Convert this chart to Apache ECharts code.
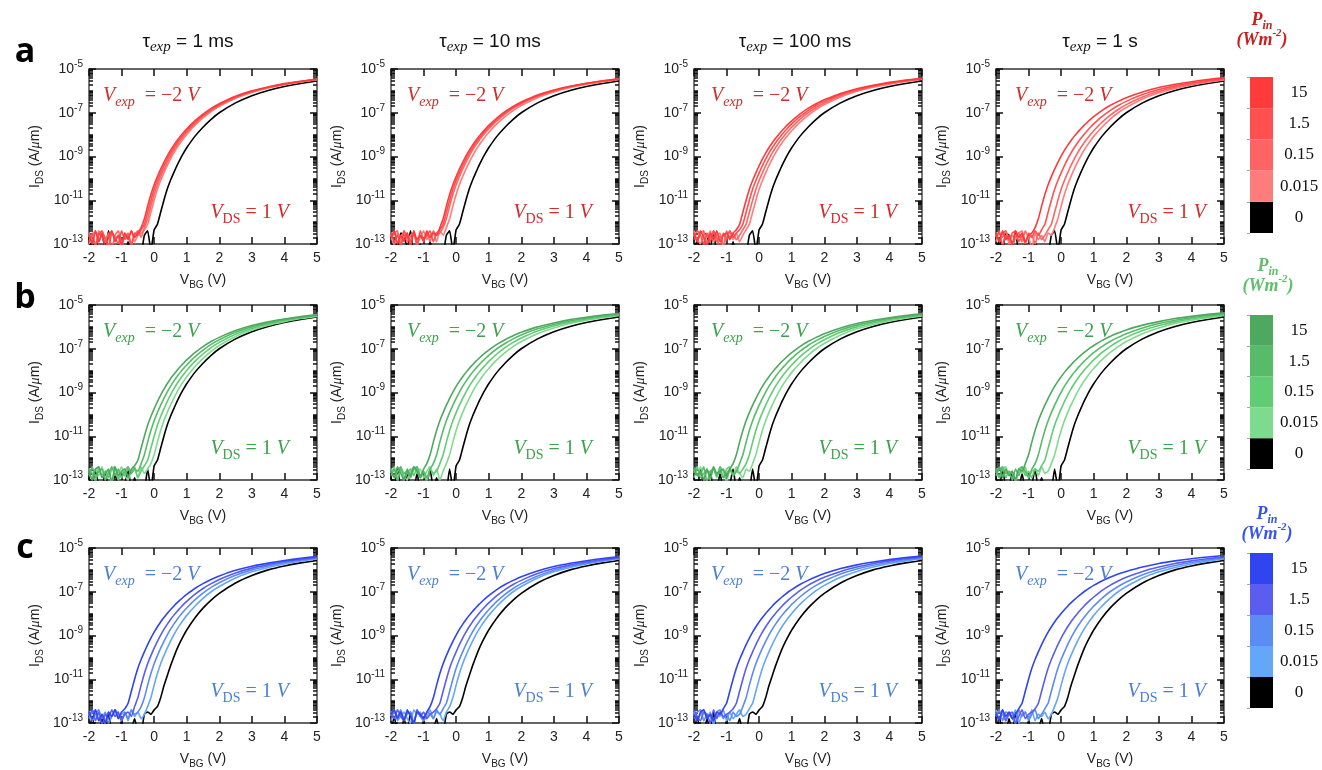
<!DOCTYPE html>
<html>
<head>
<meta charset="utf-8">
<script src="https://cdn.jsdelivr.net/npm/echarts@6/dist/echarts.min.js"></script>
<style>
html,body{margin:0;padding:0;background:#fff;}
#chart{width:1322px;height:770px;}
</style>
</head>
<body>
<div id="chart"></div>
<script>
// Back-gate voltage grid (V), shared by every transfer curve
const VBG = [-2.0,-1.9,-1.8,-1.7,-1.6,-1.5,-1.4,-1.3,-1.2,-1.1,-1.0,-0.9,-0.8,-0.7,-0.6,-0.5,-0.4,-0.3,-0.2,-0.1,0.0,0.1,0.2,0.3,0.4,0.5,0.6,0.7,0.8,0.9,1.0,1.25,1.5,1.75,2.0,2.5,3.0,3.5,4.0,4.5,5.0];

// Column headings (exposure time) and colour-bar levels (P_in, W m^-2)
const TAU_LABELS = ['1 ms', '10 ms', '100 ms', '1 s'];
const PIN_LEVELS = ['0', '0.015', '0.15', '1.5', '15'];
const ROW_LETTERS = ['a', 'b', 'c'];
const X_TICKS = [-2, -1, 0, 1, 2, 3, 4, 5];
const Y_TICKS = [-13, -11, -9, -7, -5];   // log10(I_DS) of labelled ticks

// Dark (P_in = 0) reference curves, log10(I_DS / A um^-1), one per row
const DARK_A = [-13.4,-12.8,-13.3,-12.5,-12.6,-13.2,-12.4,-13.4,-13.4,-13.0,-13.4,-13.4,-12.9,-13.4,-13.4,-13.3,-13.4,-12.6,-12.4,-13.3,-12.35,-12.1,-11.55,-11.0,-10.5,-10.1,-9.75,-9.42,-9.12,-8.85,-8.6,-8.08,-7.66,-7.3,-7.0,-6.55,-6.22,-5.98,-5.8,-5.66,-5.55];
const DARK_B = [-12.9,-13.4,-12.5,-13.3,-13.4,-12.6,-13.4,-13.4,-12.7,-13.4,-13.4,-13.2,-12.5,-13.4,-12.9,-13.4,-13.4,-13.4,-12.5,-13.4,-12.35,-12.1,-11.55,-11.0,-10.5,-10.1,-9.75,-9.42,-9.12,-8.85,-8.6,-8.08,-7.66,-7.3,-7.0,-6.55,-6.22,-5.98,-5.8,-5.66,-5.55];
const DARK_C = [-13.4,-12.7,-13.4,-13.4,-12.8,-13.4,-12.5,-13.4,-13.4,-13.4,-12.9,-13.4,-13.4,-13.3,-12.8,-13.4,-13.4,-12.6,-12.5,-12.6,-12.4,-12.25,-11.85,-11.3,-10.85,-10.4,-10.0,-9.62,-9.3,-9.02,-8.75,-8.2,-7.75,-7.38,-7.07,-6.6,-6.26,-6.0,-5.82,-5.68,-5.57];

// Illuminated curves per panel, order: P_in = 15, 1.5, 0.15, 0.015 W m^-2
// Row a (red)
const A_1MS = [
  [-12.6,-13.0,-12.4,-12.9,-12.5,-13.2,-12.7,-12.4,-12.9,-12.6,-13.1,-12.5,-12.8,-12.4,-12.7,-12.5,-12.25,-11.85,-11.27,-10.74,-10.29,-9.92,-9.58,-9.27,-8.98,-8.72,-8.49,-8.28,-8.08,-7.9,-7.74,-7.37,-7.06,-6.8,-6.59,-6.25,-6.0,-5.82,-5.67,-5.56,-5.46],
  [-12.9,-12.5,-13.1,-12.6,-12.4,-12.8,-13.2,-12.5,-12.7,-13.0,-12.4,-12.8,-12.6,-13.1,-12.5,-12.6,-12.35,-12.1,-11.55,-11.0,-10.5,-10.1,-9.75,-9.42,-9.12,-8.85,-8.6,-8.38,-8.18,-7.99,-7.82,-7.44,-7.12,-6.85,-6.63,-6.28,-6.02,-5.83,-5.69,-5.57,-5.47],
  [-12.5,-12.8,-13.1,-12.4,-12.7,-12.9,-12.5,-13.2,-12.6,-12.4,-12.9,-12.7,-12.5,-13.0,-12.6,-12.4,-12.7,-12.25,-11.85,-11.27,-10.74,-10.29,-9.92,-9.58,-9.27,-8.98,-8.72,-8.49,-8.28,-8.08,-7.9,-7.51,-7.18,-6.9,-6.67,-6.31,-6.05,-5.85,-5.7,-5.58,-5.48],
  [-13.0,-12.6,-12.4,-12.9,-12.5,-12.7,-13.1,-12.4,-12.8,-12.6,-13.2,-12.5,-12.7,-12.4,-12.9,-12.6,-12.5,-12.35,-12.1,-11.55,-11.0,-10.5,-10.1,-9.75,-9.42,-9.12,-8.85,-8.6,-8.38,-8.18,-7.99,-7.58,-7.24,-6.95,-6.71,-6.34,-6.07,-5.87,-5.71,-5.59,-5.49]
];
const A_10MS = [
  [-12.7,-12.4,-13.0,-12.6,-12.9,-12.5,-13.2,-12.4,-12.8,-12.6,-12.9,-12.4,-12.7,-12.5,-12.6,-12.25,-11.85,-11.27,-10.74,-10.29,-9.92,-9.58,-9.27,-8.98,-8.72,-8.49,-8.28,-8.08,-7.9,-7.74,-7.58,-7.24,-6.95,-6.71,-6.51,-6.19,-5.96,-5.79,-5.65,-5.54,-5.45],
  [-12.5,-12.9,-12.6,-13.1,-12.4,-12.7,-12.9,-12.5,-13.0,-12.4,-12.8,-12.6,-12.4,-12.9,-12.5,-12.35,-12.1,-11.55,-11.0,-10.5,-10.1,-9.75,-9.42,-9.12,-8.85,-8.6,-8.38,-8.18,-7.99,-7.82,-7.66,-7.3,-7.0,-6.76,-6.55,-6.22,-5.98,-5.8,-5.66,-5.55,-5.46],
  [-12.8,-12.5,-12.4,-13.0,-12.7,-12.5,-12.9,-12.4,-13.1,-12.6,-12.8,-12.5,-12.9,-12.4,-12.6,-12.5,-12.25,-11.85,-11.27,-10.74,-10.29,-9.92,-9.58,-9.27,-8.98,-8.72,-8.49,-8.28,-8.08,-7.9,-7.74,-7.37,-7.06,-6.8,-6.59,-6.25,-6.0,-5.82,-5.67,-5.56,-5.46],
  [-12.6,-13.1,-12.5,-12.8,-12.4,-12.9,-12.6,-12.5,-13.0,-12.7,-12.4,-12.8,-12.6,-12.5,-12.9,-12.4,-12.6,-12.25,-11.85,-11.27,-10.74,-10.29,-9.92,-9.58,-9.27,-8.98,-8.72,-8.49,-8.28,-8.08,-7.9,-7.51,-7.18,-6.9,-6.67,-6.31,-6.05,-5.85,-5.7,-5.58,-5.48]
];
const A_100MS = [
  [-12.5,-12.9,-12.4,-12.7,-13.1,-12.5,-12.8,-12.4,-12.9,-12.6,-12.5,-12.8,-12.5,-12.35,-12.1,-11.55,-11.0,-10.5,-10.1,-9.75,-9.42,-9.12,-8.85,-8.6,-8.38,-8.18,-7.99,-7.82,-7.66,-7.51,-7.37,-7.06,-6.8,-6.59,-6.41,-6.12,-5.9,-5.74,-5.61,-5.51,-5.43],
  [-12.8,-12.4,-12.6,-13.0,-12.5,-12.9,-12.4,-12.7,-13.2,-12.5,-12.8,-12.4,-12.7,-12.5,-12.35,-12.1,-11.55,-11.0,-10.5,-10.1,-9.75,-9.42,-9.12,-8.85,-8.6,-8.38,-8.18,-7.99,-7.82,-7.66,-7.51,-7.18,-6.9,-6.67,-6.48,-6.17,-5.94,-5.77,-5.64,-5.53,-5.44],
  [-12.6,-12.9,-12.5,-12.4,-13.0,-12.7,-12.5,-12.9,-12.6,-13.1,-12.4,-12.7,-12.5,-12.8,-12.6,-12.35,-12.1,-11.55,-11.0,-10.5,-10.1,-9.75,-9.42,-9.12,-8.85,-8.6,-8.38,-8.18,-7.99,-7.82,-7.66,-7.3,-7.0,-6.76,-6.55,-6.22,-5.98,-5.8,-5.66,-5.55,-5.46],
  [-12.4,-12.8,-13.0,-12.5,-12.7,-12.4,-12.9,-12.6,-12.5,-13.1,-12.7,-12.4,-12.8,-12.5,-12.9,-12.6,-12.35,-12.1,-11.55,-11.0,-10.5,-10.1,-9.75,-9.42,-9.12,-8.85,-8.6,-8.38,-8.18,-7.99,-7.82,-7.44,-7.12,-6.85,-6.63,-6.28,-6.02,-5.83,-5.69,-5.57,-5.47]
];
const A_1S = [
  [-12.5,-12.9,-12.4,-12.8,-12.6,-13.0,-12.4,-12.7,-12.5,-12.9,-12.6,-12.5,-12.25,-11.85,-11.27,-10.74,-10.29,-9.92,-9.58,-9.27,-8.98,-8.72,-8.49,-8.28,-8.08,-7.9,-7.74,-7.58,-7.44,-7.3,-7.18,-6.9,-6.67,-6.48,-6.31,-6.05,-5.85,-5.7,-5.58,-5.48,-5.4],
  [-12.7,-12.4,-13.1,-12.6,-12.8,-12.5,-12.4,-12.9,-12.6,-13.0,-12.5,-12.7,-12.4,-12.6,-12.35,-12.1,-11.55,-11.0,-10.5,-10.1,-9.75,-9.42,-9.12,-8.85,-8.6,-8.38,-8.18,-7.99,-7.82,-7.66,-7.51,-7.18,-6.9,-6.67,-6.48,-6.17,-5.94,-5.77,-5.64,-5.53,-5.44],
  [-12.6,-12.9,-12.5,-12.4,-12.8,-13.1,-12.6,-12.5,-12.9,-12.4,-12.7,-12.6,-13.0,-12.5,-12.8,-12.6,-12.35,-12.1,-11.55,-11.0,-10.5,-10.1,-9.75,-9.42,-9.12,-8.85,-8.6,-8.38,-8.18,-7.99,-7.82,-7.44,-7.12,-6.85,-6.63,-6.28,-6.02,-5.83,-5.69,-5.57,-5.47],
  [-12.9,-12.5,-12.7,-12.4,-13.0,-12.6,-12.8,-12.5,-12.4,-12.9,-12.7,-13.2,-12.5,-12.8,-12.6,-12.9,-12.5,-12.6,-12.25,-11.85,-11.27,-10.74,-10.29,-9.92,-9.58,-9.27,-8.98,-8.72,-8.49,-8.28,-8.08,-7.66,-7.3,-7.0,-6.76,-6.37,-6.09,-5.89,-5.73,-5.6,-5.5]
];
// Row b (green)
const B_1MS = [
  [-12.6,-13.0,-12.5,-12.4,-12.9,-12.7,-12.5,-13.1,-12.4,-12.8,-12.6,-12.5,-12.9,-12.5,-12.35,-12.1,-11.55,-11.0,-10.5,-10.1,-9.75,-9.42,-9.12,-8.85,-8.6,-8.38,-8.18,-7.99,-7.82,-7.66,-7.51,-7.18,-6.9,-6.67,-6.48,-6.17,-5.94,-5.77,-5.64,-5.53,-5.44],
  [-12.8,-12.4,-12.9,-12.6,-12.5,-13.0,-12.7,-12.4,-12.8,-12.5,-12.9,-12.6,-12.4,-12.7,-12.5,-12.6,-12.25,-11.85,-11.27,-10.74,-10.29,-9.92,-9.58,-9.27,-8.98,-8.72,-8.49,-8.28,-8.08,-7.9,-7.74,-7.37,-7.06,-6.8,-6.59,-6.25,-6.0,-5.82,-5.67,-5.56,-5.46],
  [-12.5,-12.7,-13.1,-12.4,-12.8,-12.6,-12.9,-12.5,-12.4,-13.0,-12.6,-12.8,-12.5,-12.7,-12.4,-12.9,-12.6,-12.35,-12.1,-11.55,-11.0,-10.5,-10.1,-9.75,-9.42,-9.12,-8.85,-8.6,-8.38,-8.18,-7.99,-7.58,-7.24,-6.95,-6.71,-6.34,-6.07,-5.87,-5.71,-5.59,-5.49],
  [-12.7,-13.0,-12.5,-12.8,-12.4,-12.9,-12.6,-13.2,-12.5,-12.7,-12.4,-12.8,-13.0,-12.6,-12.5,-12.9,-12.4,-12.7,-12.5,-12.25,-11.85,-11.27,-10.74,-10.29,-9.92,-9.58,-9.27,-8.98,-8.72,-8.49,-8.28,-7.82,-7.44,-7.12,-6.85,-6.44,-6.14,-5.92,-5.76,-5.62,-5.52]
];
const B_10MS = [
  [-12.6,-12.9,-12.4,-12.7,-13.0,-12.5,-12.8,-12.4,-12.6,-12.9,-12.5,-12.25,-11.85,-11.27,-10.74,-10.29,-9.92,-9.58,-9.27,-8.98,-8.72,-8.49,-8.28,-8.08,-7.9,-7.74,-7.58,-7.44,-7.3,-7.18,-7.06,-6.8,-6.59,-6.41,-6.25,-6.0,-5.82,-5.67,-5.56,-5.46,-5.39],
  [-12.8,-12.5,-13.1,-12.4,-12.7,-12.6,-12.9,-12.5,-12.4,-12.8,-12.6,-12.9,-12.5,-12.25,-11.85,-11.27,-10.74,-10.29,-9.92,-9.58,-9.27,-8.98,-8.72,-8.49,-8.28,-8.08,-7.9,-7.74,-7.58,-7.44,-7.3,-7.0,-6.76,-6.55,-6.37,-6.09,-5.89,-5.73,-5.6,-5.5,-5.42],
  [-12.5,-12.9,-12.6,-12.4,-13.0,-12.7,-12.5,-12.8,-12.4,-12.9,-12.6,-13.1,-12.5,-12.7,-12.6,-12.25,-11.85,-11.27,-10.74,-10.29,-9.92,-9.58,-9.27,-8.98,-8.72,-8.49,-8.28,-8.08,-7.9,-7.74,-7.58,-7.24,-6.95,-6.71,-6.51,-6.19,-5.96,-5.79,-5.65,-5.54,-5.45],
  [-12.7,-12.4,-12.9,-12.5,-12.8,-13.0,-12.6,-12.4,-12.7,-12.5,-12.9,-12.6,-12.4,-12.8,-12.5,-13.0,-12.6,-12.25,-11.85,-11.27,-10.74,-10.29,-9.92,-9.58,-9.27,-8.98,-8.72,-8.49,-8.28,-8.08,-7.9,-7.51,-7.18,-6.9,-6.67,-6.31,-6.05,-5.85,-5.7,-5.58,-5.48]
];
const B_100MS = [
  [-12.4,-12.8,-12.6,-13.0,-12.5,-12.9,-12.4,-12.7,-12.6,-12.5,-12.9,-12.5,-12.25,-11.85,-11.27,-10.74,-10.29,-9.92,-9.58,-9.27,-8.98,-8.72,-8.49,-8.28,-8.08,-7.9,-7.74,-7.58,-7.44,-7.3,-7.18,-6.9,-6.67,-6.48,-6.31,-6.05,-5.85,-5.7,-5.58,-5.48,-5.4],
  [-12.9,-12.5,-12.7,-12.4,-13.1,-12.6,-12.5,-12.8,-12.4,-12.9,-12.7,-12.5,-12.8,-12.6,-12.25,-11.85,-11.27,-10.74,-10.29,-9.92,-9.58,-9.27,-8.98,-8.72,-8.49,-8.28,-8.08,-7.9,-7.74,-7.58,-7.44,-7.12,-6.85,-6.63,-6.44,-6.14,-5.92,-5.76,-5.62,-5.52,-5.43],
  [-12.6,-12.4,-12.9,-12.7,-12.5,-13.0,-12.4,-12.8,-12.6,-12.9,-12.5,-12.4,-12.8,-12.6,-12.7,-12.5,-12.25,-11.85,-11.27,-10.74,-10.29,-9.92,-9.58,-9.27,-8.98,-8.72,-8.49,-8.28,-8.08,-7.9,-7.74,-7.37,-7.06,-6.8,-6.59,-6.25,-6.0,-5.82,-5.67,-5.56,-5.46],
  [-12.5,-12.8,-12.4,-13.0,-12.6,-12.7,-12.5,-12.9,-12.4,-12.6,-13.1,-12.5,-12.8,-12.4,-12.7,-12.9,-12.5,-12.6,-12.25,-11.85,-11.27,-10.74,-10.29,-9.92,-9.58,-9.27,-8.98,-8.72,-8.49,-8.28,-8.08,-7.66,-7.3,-7.0,-6.76,-6.37,-6.09,-5.89,-5.73,-5.6,-5.5]
];
const B_1S = [
  [-12.7,-12.4,-12.9,-12.5,-12.8,-12.6,-13.0,-12.5,-12.6,-12.25,-11.85,-11.27,-10.74,-10.29,-9.92,-9.58,-9.27,-8.98,-8.72,-8.49,-8.28,-8.08,-7.9,-7.74,-7.58,-7.44,-7.3,-7.18,-7.06,-6.95,-6.85,-6.63,-6.44,-6.28,-6.14,-5.92,-5.76,-5.62,-5.52,-5.43,-5.36],
  [-12.5,-12.9,-12.4,-12.7,-12.6,-13.0,-12.5,-12.8,-12.4,-12.6,-12.9,-12.5,-12.25,-11.85,-11.27,-10.74,-10.29,-9.92,-9.58,-9.27,-8.98,-8.72,-8.49,-8.28,-8.08,-7.9,-7.74,-7.58,-7.44,-7.3,-7.18,-6.9,-6.67,-6.48,-6.31,-6.05,-5.85,-5.7,-5.58,-5.48,-5.4],
  [-12.8,-12.5,-12.4,-12.9,-12.6,-12.7,-13.1,-12.5,-12.4,-12.8,-12.6,-12.9,-12.5,-12.6,-12.35,-12.1,-11.55,-11.0,-10.5,-10.1,-9.75,-9.42,-9.12,-8.85,-8.6,-8.38,-8.18,-7.99,-7.82,-7.66,-7.51,-7.18,-6.9,-6.67,-6.48,-6.17,-5.94,-5.77,-5.64,-5.53,-5.44],
  [-12.6,-12.9,-12.5,-12.4,-12.8,-12.6,-13.0,-12.5,-12.7,-12.4,-12.9,-12.6,-12.5,-12.8,-12.4,-12.7,-12.6,-12.25,-11.85,-11.27,-10.74,-10.29,-9.92,-9.58,-9.27,-8.98,-8.72,-8.49,-8.28,-8.08,-7.9,-7.51,-7.18,-6.9,-6.67,-6.31,-6.05,-5.85,-5.7,-5.58,-5.48]
];
// Row c (blue)
const C_1MS = [
  [-12.5,-12.8,-12.4,-12.9,-12.6,-13.0,-12.5,-12.7,-12.4,-12.8,-12.5,-12.35,-12.1,-11.55,-11.0,-10.5,-10.1,-9.75,-9.42,-9.12,-8.85,-8.6,-8.38,-8.18,-7.99,-7.82,-7.66,-7.51,-7.37,-7.24,-7.12,-6.85,-6.63,-6.44,-6.28,-6.02,-5.83,-5.69,-5.57,-5.47,-5.39],
  [-12.7,-12.4,-12.9,-12.5,-13.1,-12.6,-12.8,-12.4,-12.7,-12.5,-12.9,-12.6,-12.5,-12.7,-12.25,-11.85,-11.27,-10.74,-10.29,-9.92,-9.58,-9.27,-8.98,-8.72,-8.49,-8.28,-8.08,-7.9,-7.74,-7.58,-7.44,-7.12,-6.85,-6.63,-6.44,-6.14,-5.92,-5.76,-5.62,-5.52,-5.43],
  [-12.5,-12.9,-12.6,-12.4,-12.8,-12.5,-13.0,-12.7,-12.4,-12.6,-12.9,-12.5,-12.8,-12.4,-12.6,-12.5,-12.25,-11.85,-11.27,-10.74,-10.29,-9.92,-9.58,-9.27,-8.98,-8.72,-8.49,-8.28,-8.08,-7.9,-7.74,-7.37,-7.06,-6.8,-6.59,-6.25,-6.0,-5.82,-5.67,-5.56,-5.46],
  [-12.8,-12.5,-12.4,-12.9,-12.6,-13.0,-12.5,-12.7,-12.4,-12.8,-12.6,-12.5,-12.9,-12.4,-12.7,-12.5,-12.8,-12.6,-12.25,-11.85,-11.27,-10.74,-10.29,-9.92,-9.58,-9.27,-8.98,-8.72,-8.49,-8.28,-8.08,-7.66,-7.3,-7.0,-6.76,-6.37,-6.09,-5.89,-5.73,-5.6,-5.5]
];
const C_10MS = [
  [-12.6,-12.4,-12.8,-12.5,-12.9,-12.4,-12.7,-13.0,-12.5,-12.6,-12.8,-12.5,-12.25,-11.85,-11.27,-10.74,-10.29,-9.92,-9.58,-9.27,-8.98,-8.72,-8.49,-8.28,-8.08,-7.9,-7.74,-7.58,-7.44,-7.3,-7.18,-6.9,-6.67,-6.48,-6.31,-6.05,-5.85,-5.7,-5.58,-5.48,-5.4],
  [-12.5,-12.8,-12.4,-12.7,-12.9,-12.5,-12.6,-13.1,-12.4,-12.7,-12.5,-12.8,-12.6,-12.5,-12.35,-12.1,-11.55,-11.0,-10.5,-10.1,-9.75,-9.42,-9.12,-8.85,-8.6,-8.38,-8.18,-7.99,-7.82,-7.66,-7.51,-7.18,-6.9,-6.67,-6.48,-6.17,-5.94,-5.77,-5.64,-5.53,-5.44],
  [-12.9,-12.5,-12.7,-12.4,-12.8,-12.6,-12.5,-13.0,-12.4,-12.7,-12.9,-12.5,-12.6,-12.8,-12.4,-12.6,-12.35,-12.1,-11.55,-11.0,-10.5,-10.1,-9.75,-9.42,-9.12,-8.85,-8.6,-8.38,-8.18,-7.99,-7.82,-7.44,-7.12,-6.85,-6.63,-6.28,-6.02,-5.83,-5.69,-5.57,-5.47],
  [-12.6,-12.4,-12.9,-12.7,-12.5,-12.8,-13.0,-12.4,-12.6,-12.5,-12.9,-12.7,-12.4,-12.8,-12.5,-12.6,-12.9,-12.5,-12.25,-11.85,-11.27,-10.74,-10.29,-9.92,-9.58,-9.27,-8.98,-8.72,-8.49,-8.28,-8.08,-7.66,-7.3,-7.0,-6.76,-6.37,-6.09,-5.89,-5.73,-5.6,-5.5]
];
const C_100MS = [
  [-12.6,-12.9,-12.5,-12.4,-12.8,-12.6,-12.9,-12.5,-12.6,-12.35,-12.1,-11.55,-11.0,-10.5,-10.1,-9.75,-9.42,-9.12,-8.85,-8.6,-8.38,-8.18,-7.99,-7.82,-7.66,-7.51,-7.37,-7.24,-7.12,-7.0,-6.9,-6.67,-6.48,-6.31,-6.17,-5.94,-5.77,-5.64,-5.53,-5.44,-5.37],
  [-12.4,-12.7,-12.9,-12.5,-12.6,-13.0,-12.4,-12.8,-12.5,-12.7,-12.6,-12.5,-12.35,-12.1,-11.55,-11.0,-10.5,-10.1,-9.75,-9.42,-9.12,-8.85,-8.6,-8.38,-8.18,-7.99,-7.82,-7.66,-7.51,-7.37,-7.24,-6.95,-6.71,-6.51,-6.34,-6.07,-5.87,-5.71,-5.59,-5.49,-5.41],
  [-12.8,-12.5,-12.4,-12.9,-12.6,-12.7,-13.0,-12.5,-12.4,-12.8,-12.6,-12.9,-12.5,-12.7,-12.6,-12.25,-11.85,-11.27,-10.74,-10.29,-9.92,-9.58,-9.27,-8.98,-8.72,-8.49,-8.28,-8.08,-7.9,-7.74,-7.58,-7.24,-6.95,-6.71,-6.51,-6.19,-5.96,-5.79,-5.65,-5.54,-5.45],
  [-12.5,-12.9,-12.6,-12.4,-12.8,-12.5,-13.1,-12.6,-12.7,-12.4,-12.9,-12.5,-12.8,-12.6,-12.4,-12.7,-12.6,-12.35,-12.1,-11.55,-11.0,-10.5,-10.1,-9.75,-9.42,-9.12,-8.85,-8.6,-8.38,-8.18,-7.99,-7.58,-7.24,-6.95,-6.71,-6.34,-6.07,-5.87,-5.71,-5.59,-5.49]
];
const C_1S = [
  [-12.6,-12.9,-12.4,-12.7,-12.5,-12.8,-12.6,-12.35,-12.1,-11.55,-11.0,-10.5,-10.1,-9.75,-9.42,-9.12,-8.85,-8.6,-8.38,-8.18,-7.99,-7.82,-7.66,-7.51,-7.37,-7.24,-7.12,-7.0,-6.9,-6.8,-6.71,-6.51,-6.34,-6.19,-6.07,-5.87,-5.71,-5.59,-5.49,-5.41,-5.34],
  [-12.5,-12.8,-12.4,-12.9,-12.6,-12.5,-13.0,-12.7,-12.4,-12.8,-12.6,-12.5,-12.35,-12.1,-11.55,-11.0,-10.5,-10.1,-9.75,-9.42,-9.12,-8.85,-8.6,-8.38,-8.18,-7.99,-7.82,-7.66,-7.51,-7.37,-7.24,-6.95,-6.71,-6.51,-6.34,-6.07,-5.87,-5.71,-5.59,-5.49,-5.41],
  [-12.7,-12.4,-12.9,-12.5,-12.6,-12.8,-13.0,-12.4,-12.7,-12.5,-12.9,-12.6,-12.4,-12.8,-12.6,-12.35,-12.1,-11.55,-11.0,-10.5,-10.1,-9.75,-9.42,-9.12,-8.85,-8.6,-8.38,-8.18,-7.99,-7.82,-7.66,-7.3,-7.0,-6.76,-6.55,-6.22,-5.98,-5.8,-5.66,-5.55,-5.46],
  [-12.4,-12.8,-12.6,-12.9,-12.5,-12.7,-12.4,-13.0,-12.6,-12.5,-12.8,-12.4,-12.9,-12.6,-12.7,-12.5,-12.8,-12.6,-12.25,-11.85,-11.27,-10.74,-10.29,-9.92,-9.58,-9.27,-8.98,-8.72,-8.49,-8.28,-8.08,-7.66,-7.3,-7.0,-6.76,-6.37,-6.09,-5.89,-5.73,-5.6,-5.5]
];

const ROWS = [
  { dark: DARK_A, panels: [A_1MS, A_10MS, A_100MS, A_1S] },
  { dark: DARK_B, panels: [B_1MS, B_10MS, B_100MS, B_1S] },
  { dark: DARK_C, panels: [C_1MS, C_10MS, C_100MS, C_1S] }
];

// ---- styling ----
const PALETTES = [
  { lines: ['#ff3a3a', '#ff4f4f', '#ff6464', '#ff7c7c'], text: '#d42b2b', head: '#c81e1e' },
  { lines: ['#4fa85f', '#57bb69', '#60cd74', '#7edb8d'], text: '#3da24c', head: '#5cbf6a' },
  { lines: ['#3045ef', '#5b5cf0', '#5b8cf3', '#64a6f7'], text: '#4b7fd6', head: '#3553ee' }
];
const SANS = '"Liberation Sans", Arial, sans-serif';
const SERIF = '"Liberation Serif", "Times New Roman", serif';
const FRAME_COLOR = '#333';
const TICK_COLOR = '#111';

const COL_LEFT = [89, 391, 694, 996];
const ROW_TOP = [69, 305, 548];
const PW = 228, PH = 175;
const TITLE_X = [188, 490, 795, 1100];
const EXP_DX = [14, 16, 17, 19];
const DS_DX = [28, 27, 25, 18];
const LETTER_Y = [52, 298, 548];
const CB = [
  { top: 77, height: 156, headX: 1262, headY: 20 },
  { top: 315, height: 154, headX: 1268, headY: 266 },
  { top: 553, height: 155, headX: 1267, headY: 514 }
];

// log-spaced minor ticks (2..9 within each decade, plus unlabelled decades)
const MINOR_TICKS = [];
for (let d = -13; d < -5; d++) {
  for (let k = 2; k <= 9; k++) MINOR_TICKS.push(d + Math.log10(k));
  if ((d + 13) % 2 === 1) MINOR_TICKS.push(d);
}

const grids = [], xAxes = [], yAxes = [], series = [], titles = [];

const axisText = { fontSize: 14, fontFamily: SANS, color: '#222', lineHeight: 20, fontWeight: 'normal' };
const subText = { fontSize: 10, fontFamily: SANS, color: '#222', verticalAlign: 'bottom', lineHeight: 10, fontWeight: 'normal' };
const supText = { fontSize: 10, fontFamily: SANS, color: '#222', verticalAlign: 'top', lineHeight: 10, fontWeight: 'normal' };

function tick(len, values) {
  return { show: true, inside: true, length: len, customValues: values, lineStyle: { color: TICK_COLOR, width: 1.5 } };
}

// Tick-bearing axes; the box itself is the grid border
function tickAxis(extra) {
  return Object.assign({
    type: 'value',
    axisLine: { show: false, onZero: false },
    axisLabel: { show: false },
    splitLine: { show: false }
  }, extra);
}

ROWS.forEach((row, r) => {
  const pal = PALETTES[r];
  row.panels.forEach((curves, c) => {
    const gi = grids.length;
    grids.push({
      left: COL_LEFT[c], top: ROW_TOP[r], width: PW, height: PH,
      show: true, borderColor: FRAME_COLOR, borderWidth: 1.3, backgroundColor: 'transparent',
      outerBoundsMode: 'none', containLabel: false
    });

    const xi = xAxes.length;
    xAxes.push(tickAxis({
      gridIndex: gi, min: -2, max: 5, interval: 1, position: 'bottom',
      axisTick: tick(7, X_TICKS),
      axisLabel: { show: true, customValues: X_TICKS, color: '#222', fontSize: 14, fontFamily: SANS, margin: 7 },
      name: '{v|V}{s|BG}{v| (V)}', nameLocation: 'middle', nameGap: 26,
      nameTextStyle: { fontWeight: 'normal', rich: { v: axisText, s: subText } }
    }));
    xAxes.push(tickAxis({ gridIndex: gi, min: -2, max: 5, interval: 1, position: 'top', axisTick: tick(7, X_TICKS) }));

    const yi = yAxes.length;
    yAxes.push(tickAxis({
      gridIndex: gi, min: -13, max: -5, position: 'left',
      axisTick: tick(7, Y_TICKS),
      axisLabel: {
        show: true, customValues: Y_TICKS, margin: 6,
        formatter: v => '{b|10}{e|' + v + '}',
        rich: { b: axisText, e: supText }
      },
      name: '{v|I}{s|DS}{v| (A/}{m|\u03bc}{v|m)}', nameLocation: 'middle', nameGap: 44, nameRotate: 90,
      nameTextStyle: { fontWeight: 'normal', rich: { v: axisText, s: subText, m: Object.assign({}, axisText, { fontStyle: 'italic', fontFamily: SERIF }) } }
    }));
    yAxes.push(tickAxis({ gridIndex: gi, min: -13, max: -5, position: 'left', axisTick: tick(4, MINOR_TICKS) }));
    yAxes.push(tickAxis({ gridIndex: gi, min: -13, max: -5, position: 'right', axisTick: tick(7, Y_TICKS) }));
    yAxes.push(tickAxis({ gridIndex: gi, min: -13, max: -5, position: 'right', axisTick: tick(4, MINOR_TICKS) }));

    const toData = arr => VBG.map((v, i) => [v, arr[i]]);
    const lineSeries = (arr, color) => ({
      type: 'line', xAxisIndex: xi, yAxisIndex: yi, data: toData(arr),
      showSymbol: false, symbol: 'none', smooth: 0.15, clip: true, silent: true,
      lineStyle: { color: color, width: 1.6 }
    });
    series.push(lineSeries(row.dark, '#000'));
    for (let k = 3; k >= 0; k--) series.push(lineSeries(curves[k], pal.lines[k]));

    // in-panel annotations
    const rich = {
      v: { fontSize: 20, fontStyle: 'italic', fontWeight: 'normal', fontFamily: SERIF, color: pal.text, lineHeight: 26 },
      t: { fontSize: 20, fontStyle: 'normal', fontWeight: 'normal', fontFamily: SERIF, color: pal.text, lineHeight: 26 },
      s: { fontSize: 14, fontStyle: 'italic', fontWeight: 'normal', fontFamily: SERIF, color: pal.text, verticalAlign: 'bottom', lineHeight: 15 },
      d: { fontSize: 14, fontStyle: 'normal', fontWeight: 'normal', fontFamily: SERIF, color: pal.text, verticalAlign: 'bottom', lineHeight: 15 }
    };
    titles.push({
      text: '{v|V}{s|exp}{t|  = \u22122 }{v|V}', left: COL_LEFT[c] + EXP_DX[c], top: ROW_TOP[r] + 27,
      textAlign: 'left', textVerticalAlign: 'middle', padding: 0, textStyle: { fontWeight: 'normal', rich: rich }
    });
    titles.push({
      text: '{v|V}{d|DS}{t| = 1 }{v|V}', left: COL_LEFT[c] + PW - DS_DX[c], top: ROW_TOP[r] + PH - 31,
      textAlign: 'right', textVerticalAlign: 'middle', padding: 0, textStyle: { fontWeight: 'normal', rich: rich }
    });
  });

  // colour bar for this row
  const cb = CB[r];
  const gi = grids.length;
  grids.push({ left: 1250, top: cb.top, width: 23, height: cb.height, outerBoundsMode: 'none', containLabel: false });
  const xi = xAxes.length;
  xAxes.push({ gridIndex: gi, type: 'value', min: 0, max: 1, show: false });
  const yi = yAxes.length;
  yAxes.push({
    gridIndex: gi, type: 'category', data: PIN_LEVELS, position: 'right',
    axisLine: { show: false },
    axisTick: { show: true, inside: true, length: 3, lineStyle: { color: 'rgba(0,0,0,0.35)' } },
    axisLabel: { show: true, color: '#111', fontSize: 17, fontFamily: SERIF, align: 'center', margin: 26, interval: 0 },
    splitLine: { show: false }
  });
  const cbColors = ['#000', pal.lines[3], pal.lines[2], pal.lines[1], pal.lines[0]];
  series.push({
    type: 'bar', xAxisIndex: xi, yAxisIndex: yi, silent: true,
    barWidth: '100%', barCategoryGap: '0%',
    data: PIN_LEVELS.map((lv, i) => ({ value: 1, itemStyle: { color: cbColors[i] } }))
  });

  const headRich = {
    p: { fontSize: 18, fontStyle: 'italic', fontWeight: 'bold', fontFamily: SERIF, color: pal.head, lineHeight: 24 },
    s: { fontSize: 12, fontStyle: 'italic', fontWeight: 'bold', fontFamily: SERIF, color: pal.head, verticalAlign: 'bottom', lineHeight: 12 },
    e: { fontSize: 11, fontStyle: 'italic', fontWeight: 'bold', fontFamily: SERIF, color: pal.head, verticalAlign: 'top', lineHeight: 11 }
  };
  titles.push({ text: '{p|P}{s|in}', left: cb.headX, top: cb.headY, textAlign: 'center', textVerticalAlign: 'middle', padding: 0, textStyle: { rich: headRich } });
  titles.push({ text: '{p|(Wm}{e|-2}{p|)}', left: cb.headX, top: cb.headY + 20, textAlign: 'center', textVerticalAlign: 'middle', padding: 0, textStyle: { rich: headRich } });

  // row letter
  titles.push({
    text: ROW_LETTERS[r], left: 25, top: LETTER_Y[r], textAlign: 'center', textVerticalAlign: 'middle', padding: 0,
    textStyle: { fontSize: 34, fontWeight: 'bold', fontFamily: '"Open Sans", "Liberation Sans", sans-serif', color: '#000' }
  });
});

// column headings
TAU_LABELS.forEach((lab, c) => {
  titles.push({
    text: '{t|\u03c4}{s|exp}{t| = ' + lab + '}', left: TITLE_X[c], top: 42,
    textAlign: 'center', textVerticalAlign: 'middle', padding: 0,
    textStyle: { fontWeight: 'normal', rich: {
      t: { fontSize: 19, fontWeight: 'normal', fontFamily: SANS, color: '#111', lineHeight: 26 },
      s: { fontSize: 15, fontStyle: 'italic', fontWeight: 'normal', fontFamily: SERIF, color: '#111', verticalAlign: 'bottom', lineHeight: 14 }
    } }
  });
});

const chart = echarts.init(document.getElementById('chart'), null, { renderer: 'canvas' });
chart.setOption({
  backgroundColor: '#fff',
  animation: false,
  title: titles,
  grid: grids,
  xAxis: xAxes,
  yAxis: yAxes,
  series: series
});
</script>
</body>
</html>
